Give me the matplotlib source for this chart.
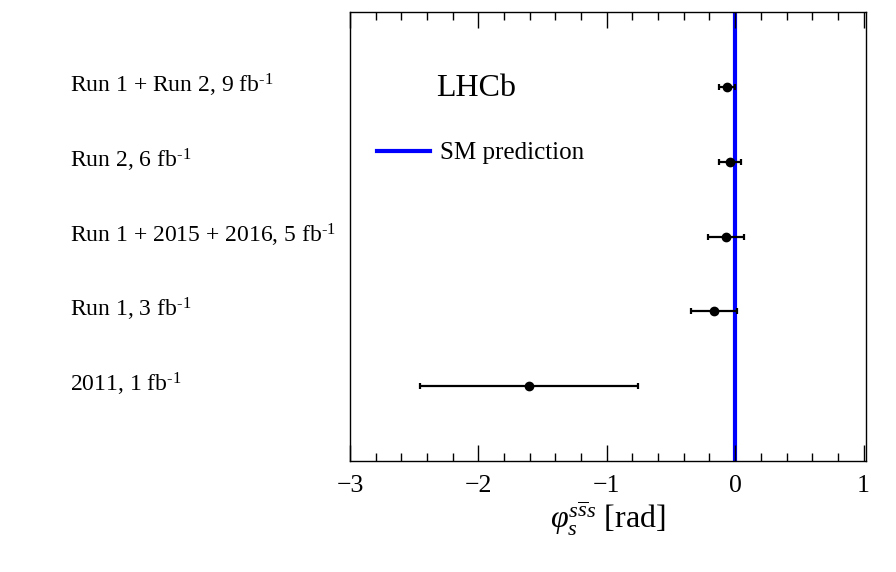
import matplotlib
matplotlib.use("Agg")
import matplotlib.pyplot as plt
from matplotlib.lines import Line2D
from matplotlib.transforms import blended_transform_factory
import numpy as np

plt.rcParams['font.family'] = ['Liberation Serif', 'DejaVu Serif']
plt.rcParams['mathtext.fontset'] = 'custom'
plt.rcParams['mathtext.rm'] = 'Liberation Serif'
plt.rcParams['mathtext.it'] = 'Liberation Serif:italic'

# Data (top to bottom)
labels = [
    r"Run 1 + Run 2, 9 fb$^{\text{-1}}$",
    r"Run 2, 6 fb$^{\text{-1}}$",
    r"Run 1 + 2015 + 2016, 5 fb$^{\text{-1}}$",
    r"Run 1, 3 fb$^{\text{-1}}$",
    r"2011, 1 fb$^{\text{-1}}$",
]
ypos = [5, 4, 3, 2, 1]
phi = [-0.060, -0.040, -0.069, -0.165, -1.604]
err_lo = [0.065, 0.086, 0.139, 0.182, 0.848]
err_hi = [0.062, 0.086, 0.139, 0.182, 0.850]
sm_value = 0.0

fig = plt.figure(figsize=(8.96, 5.72), dpi=100)
ax = fig.add_axes([350/896, 1 - 461/572, (866 - 350)/896, (461 - 12)/572])

ax.axvline(sm_value, color='#0000ff', lw=3.0, zorder=1)
ax.errorbar(phi, ypos, xerr=[err_lo, err_hi], fmt='o', color='black',
            ms=6, lw=1.6, capsize=2.5, capthick=1.6, zorder=3)

ax.set_xlim(-3, 1.019)
ax.set_ylim(0, 6)
ax.set_xticks([-3, -2, -1, 0, 1])
ax.set_xticklabels(['\u22123', '\u22122', '\u22121', '0', '1'])
ax.set_xticks(np.arange(-3, 1.01, 0.2), minor=True)
ax.tick_params(axis='x', which='major', direction='in', length=11.5, width=1,
               top=True, labelsize=18.5, pad=10)
ax.tick_params(axis='x', which='minor', direction='in', length=5.8, width=1,
               top=True)
ax.set_yticks([])
for s in ax.spines.values():
    s.set_linewidth(1.0)

ax.set_xlabel(r"$\varphi_s^{s\overline{s}s}$ [rad]", fontsize=23, labelpad=2)

trans = blended_transform_factory(fig.transFigure, ax.transData)
for lab, y in zip(labels, ypos):
    ax.text(70/896, y + 0.02, lab, transform=trans,
            ha='left', va='center', fontsize=17)

ax.text(436/896, 1 - 88/572, "LHCb", transform=fig.transFigure, fontsize=23,
        ha='left', va='center')

handle = Line2D([], [], color='#0000ff', lw=3.0)
ax.legend([handle], ["SM prediction"], loc='center left', frameon=False,
          bbox_to_anchor=(377/896, 1 - 153/572), bbox_transform=fig.transFigure,
          fontsize=18, handlelength=2.1, handletextpad=0.42, borderpad=0, borderaxespad=0)

fig.savefig("out.png", dpi=100)
